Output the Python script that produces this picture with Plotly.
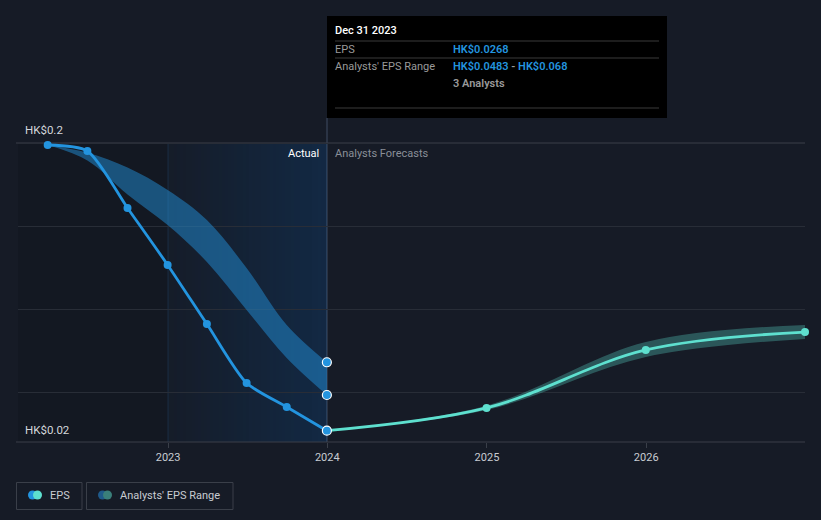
import plotly.graph_objects as go

# ---------------- data ----------------
actual_dates = ["2022-03-31", "2022-06-30", "2022-09-30", "2022-12-31",
                "2023-03-31", "2023-06-30", "2023-09-30", "2023-12-31"]
actual_eps = [0.1988, 0.1952, 0.1609, 0.1266, 0.0910, 0.0555, 0.0411, 0.0268]
past_range_high = [0.1988, 0.1942, 0.1852, 0.1717, 0.1536, 0.1247, 0.0904, 0.0680]
past_range_low = [0.1988, 0.1895, 0.1690, 0.1506, 0.1284, 0.0995, 0.0706, 0.0483]

fc_dates = ["2023-12-31", "2024-12-31", "2025-12-31", "2026-12-31"]
fc_eps = [0.0268, 0.0405, 0.0754, 0.0862]
fc_high = [0.0268, 0.0418, 0.0802, 0.0904]
fc_low = [0.0268, 0.0392, 0.0712, 0.0820]

year_ticks = ["2023-01-01", "2024-01-01", "2025-01-01", "2026-01-01"]
year_labels = ["2023", "2024", "2025", "2026"]
grid_vals = [0.02, 0.05, 0.10, 0.15, 0.20]

# ---------------- style ----------------
BG = "#161b26"
BLUE = "#2394df"
TEAL = "#5ee0cf"
FONT = "Roboto"
W, H = 821, 520
L, R, T, B = 18, 805, 20, 442


def px(x):
    return (x - L) / (R - L)


def py(y):
    return (B - y) / (B - T)


fig = go.Figure()

# past analysts range band
fig.add_trace(go.Scatter(x=actual_dates, y=past_range_low, mode="lines",
                         line=dict(width=0, shape="spline", smoothing=1.0),
                         hoverinfo="skip", showlegend=False))
fig.add_trace(go.Scatter(x=actual_dates, y=past_range_high, mode="lines",
                         line=dict(width=0, shape="spline", smoothing=1.0),
                         fill="tonexty", fillcolor="rgba(35,148,223,0.48)",
                         hoverinfo="skip", showlegend=False))

# forecast range band
fig.add_trace(go.Scatter(x=fc_dates, y=fc_low, mode="lines",
                         line=dict(width=0, shape="spline", smoothing=1.0),
                         hoverinfo="skip", showlegend=False))
fig.add_trace(go.Scatter(x=fc_dates, y=fc_high, mode="lines",
                         line=dict(width=0, shape="spline", smoothing=1.0),
                         fill="tonexty", fillcolor="rgba(94,224,207,0.30)",
                         hoverinfo="skip", showlegend=False))

# actual EPS line
fig.add_trace(go.Scatter(x=actual_dates, y=actual_eps, mode="lines+markers",
                         line=dict(color=BLUE, width=2.8, shape="spline", smoothing=0.7),
                         marker=dict(size=8, color=BLUE),
                         showlegend=False))

# forecast EPS line
fig.add_trace(go.Scatter(x=fc_dates, y=fc_eps, mode="lines+markers",
                         line=dict(color=TEAL, width=2.8, shape="spline", smoothing=1.0),
                         marker=dict(size=8, color=TEAL),
                         showlegend=False, cliponaxis=False))

# highlighted points at Dec 31 2023
fig.add_trace(go.Scatter(x=[actual_dates[-1]] * 3,
                         y=[actual_eps[-1], past_range_low[-1], past_range_high[-1]],
                         mode="markers",
                         marker=dict(size=9, color=BLUE, line=dict(color="white", width=1.2)),
                         showlegend=False, cliponaxis=False))

shapes = []
# darker past region
shapes.append(dict(type="rect", xref="paper", yref="paper", x0=0, x1=px(168),
                   y0=py(442), y1=py(143), fillcolor="rgba(0,0,0,0.10)",
                   line=dict(width=0), layer="below"))
# gradient shading for last actual year (non-overlapping integer-pixel slices)
step = 3
xs = list(range(168, 327, step)) + [327]
for i in range(len(xs) - 1):
    x0, x1 = xs[i], xs[i + 1]
    a = 0.03 + 0.24 * ((x0 + x1) / 2 - 168) / (327 - 168)
    shapes.append(dict(type="rect", xref="paper", yref="paper", x0=px(x0), x1=px(x1),
                       y0=py(442), y1=py(143), fillcolor=f"rgba(10,80,150,{a:.3f})",
                       line=dict(width=0), layer="below"))
# vertical marker lines
shapes.append(dict(type="line", xref="paper", yref="paper", x0=px(168), x1=px(168),
                   y0=py(442), y1=py(143), line=dict(color="rgba(40,90,140,0.30)", width=1),
                   layer="below"))
shapes.append(dict(type="line", xref="paper", yref="paper", x0=px(327), x1=px(327),
                   y0=py(442), y1=py(118), line=dict(color="rgba(110,140,175,0.45)", width=1),
                   layer="below"))
# top & bottom brighter grid lines
shapes.append(dict(type="line", xref="paper", yref="y", x0=px(16), x1=1,
                   y0=0.2, y1=0.2, line=dict(color="#3a3f49", width=1), layer="below"))
shapes.append(dict(type="line", xref="paper", yref="paper", x0=px(16), x1=1,
                   y0=0, y1=0, line=dict(color="#3a3f49", width=1), layer="below"))

# tooltip box
shapes.append(dict(type="rect", xref="paper", yref="paper", x0=px(327), x1=px(667),
                   y0=py(118), y1=py(16), fillcolor="#000000", line=dict(width=0)))
for yy in (41, 58, 108):
    shapes.append(dict(type="line", xref="paper", yref="paper", x0=px(335), x1=px(659),
                       y0=py(yy), y1=py(yy), line=dict(color="#3a3a3a", width=1)))

# legend boxes
shapes.append(dict(type="rect", xref="paper", yref="paper", x0=px(16.5), x1=px(82),
                   y0=py(509.5), y1=py(482.5), line=dict(color="#3a3f49", width=1),
                   fillcolor="rgba(0,0,0,0)"))
shapes.append(dict(type="rect", xref="paper", yref="paper", x0=px(86.5), x1=px(233),
                   y0=py(509.5), y1=py(482.5), line=dict(color="#3a3f49", width=1),
                   fillcolor="rgba(0,0,0,0)"))
for cx, col in ((32.5, BLUE), (37.5, TEAL), (102.5, "#1f5a8a"), (107.5, "#3a7f7a")):
    shapes.append(dict(type="circle", xref="paper", yref="paper",
                       x0=px(cx - 4.5), x1=px(cx + 4.5), y0=py(499.5), y1=py(490.5),
                       fillcolor=col, line=dict(width=0)))

annotations = []


def txt(x, y, s, color, size=11, anchor="left", weight=None):
    f = dict(family=FONT, size=size, color=color)
    if weight:
        f["weight"] = weight
    xs_ = x - 2 if anchor == "left" else x + 2
    annotations.append(dict(xref="paper", yref="paper", x=px(xs_), y=py(y), text=s,
                            showarrow=False, xanchor=anchor, yanchor="middle", font=f))


txt(25, 130, "HK$0.2", "#d4d7dc", size=11.5)
txt(25, 430, "HK$0.02", "#d4d7dc", size=11.5)
txt(319, 154, "Actual", "#ffffff", anchor="right")
txt(335, 154, "Analysts Forecasts", "#8a8f98")
txt(335, 30, "Dec 31 2023", "#ffffff", weight=500)
txt(335, 49, "EPS", "#9a9a9a")
txt(453, 49, "HK$0.0268", BLUE, weight=600)
txt(335, 66, "Analysts' EPS Range", "#9a9a9a")
txt(453, 66, f"<span style='color:{BLUE}'>HK$0.0483</span> - <span style='color:{BLUE}'>HK$0.068</span>",
    "#9a9a9a", weight=600)
txt(453, 83, "3 Analysts", "#9a9a9a", weight=600)
txt(50, 496, "EPS", "#c8ccd2", size=11)
txt(120, 496, "Analysts' EPS Range", "#c8ccd2", size=11)

ymin = 0.02
ymax = 0.02 + (B - T) / ((B - 143) / 0.18)

fig.update_layout(
    width=W, height=H,
    margin=dict(l=L, r=W - R, t=T, b=H - B),
    paper_bgcolor=BG, plot_bgcolor=BG,
    font=dict(family=FONT, color="#c8ccd2", size=11),
    xaxis=dict(range=["2022-01-22", "2026-12-31"], showgrid=False, zeroline=False,
               tickvals=year_ticks, ticktext=year_labels, ticks="outside",
               ticklen=5, tickcolor="#3a3f49", tickfont=dict(size=11, color="#c8ccd2"),
               showline=False),
    yaxis=dict(range=[ymin, ymax], tickvals=grid_vals, showticklabels=False,
               gridcolor="#282d37", gridwidth=1, zeroline=False, showline=False),
    shapes=shapes, annotations=annotations, showlegend=False,
    hovermode=False,
)

fig.write_html("out.html")
